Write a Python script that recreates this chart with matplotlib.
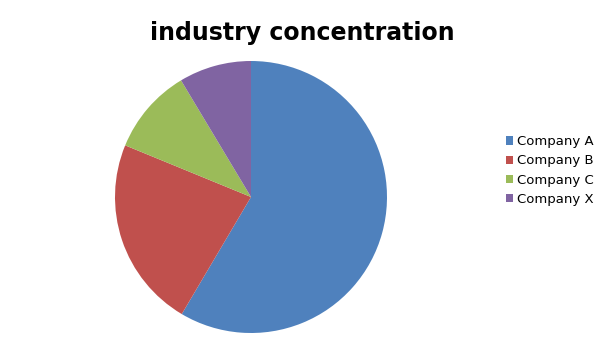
import matplotlib
matplotlib.use("Agg")
import matplotlib.pyplot as plt
from matplotlib.patches import Patch

labels = ["Company A", "Company B", "Company C", "Company X"]
values = [58.5, 22.7, 10.2, 8.6]
colors = ["#4F81BD", "#C0504D", "#9BBB59", "#8064A2"]

W, H = 605, 340
fig = plt.figure(figsize=(W / 100, H / 100), dpi=100)
fig.patch.set_facecolor("white")

cx, cy, r = 251, 197, 136
ax = fig.add_axes([(cx - r) / W, (H - cy - r) / H, 2 * r / W, 2 * r / H])
ax.pie(values, colors=colors, startangle=90, counterclock=False, radius=1,
       wedgeprops=dict(linewidth=0))
ax.set_xlim(-1, 1)
ax.set_ylim(-1, 1)
ax.set_aspect("auto")
ax.axis("off")

fig.text(302 / W, 1 - 33 / H, "industry concentration", ha="center", va="center",
         fontsize=17, fontweight="bold", family="DejaVu Sans")

handles = [Patch(facecolor=c, edgecolor="none") for c in colors]
fig.legend(handles, labels, loc="center left", bbox_to_anchor=(505.5 / W, 1 - 170.5 / H),
           frameon=False, fontsize=9.5, handlelength=0.6, handleheight=0.6,
           handletextpad=0.3, labelspacing=0.47, borderpad=0, borderaxespad=0)

fig.savefig("out.png", dpi=100, facecolor="white")
